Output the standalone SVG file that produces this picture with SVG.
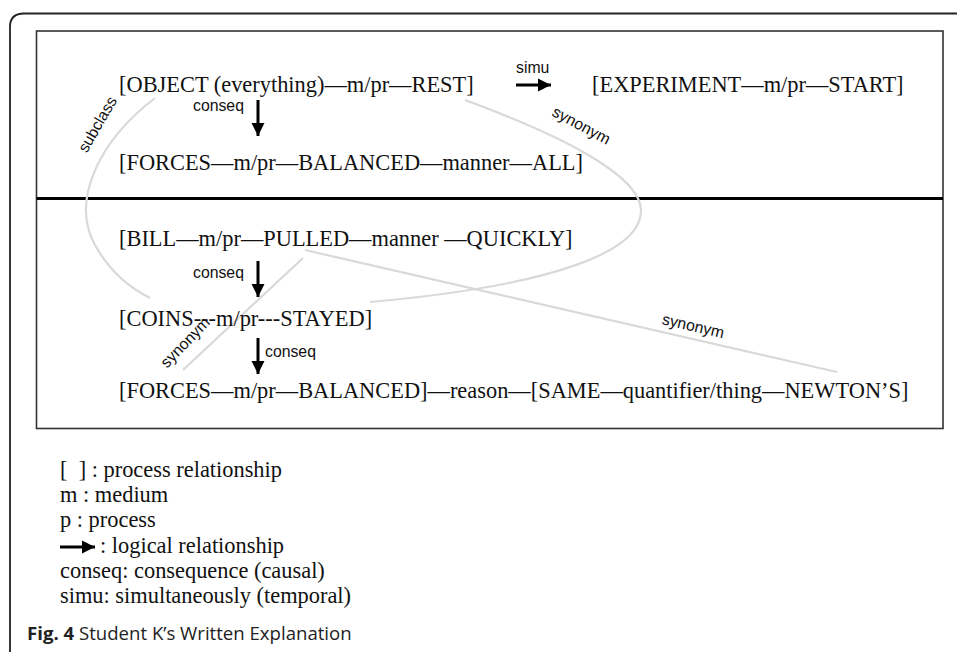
<svg xmlns="http://www.w3.org/2000/svg" width="957" height="652" viewBox="0 0 957 652">
<style>
.t{font-family:"Liberation Serif","Times New Roman",serif;font-size:22.4px;fill:#111}
.s{font-family:"Liberation Sans",Arial,sans-serif;font-size:15.8px;fill:#111}
.g{fill:none;stroke:#d9d9d9;stroke-width:2.2}
.ar{stroke:#000;stroke-width:3;fill:none}
.cap{font-family:"Open Sans","Noto Sans",sans-serif;font-size:18.6px;fill:#222}
</style>
<defs>
<marker id="ah" markerUnits="userSpaceOnUse" markerWidth="14" markerHeight="14" refX="13" refY="7" orient="auto">
<path d="M0,0.5 L13,7 L0,13.5 Z" fill="#000"/>
</marker>
</defs>
<rect width="957" height="652" fill="#fff"/>
<path d="M10,652 V27 Q10,13.5 24,13.5 H957" fill="none" stroke="#222" stroke-width="1.8"/>
<rect x="36.5" y="31" width="906.5" height="397.5" fill="none" stroke="#333" stroke-width="1.6"/>
<line x1="36.5" y1="198.5" x2="943" y2="198.5" stroke="#000" stroke-width="3"/>

<g id="connectors">
<path class="g" d="M155,98 C100,140 70,200 95,245 C110,272 130,288 150,298"/>
<path class="g" d="M465,100 C560,135 640,175 641,210 C642,250 560,285 370,302"/>
<line class="g" x1="305" y1="250" x2="837" y2="372"/>
<line class="g" x1="303" y1="258" x2="183" y2="370"/>
<line class="ar" x1="258" y1="100" x2="258" y2="136" marker-end="url(#ah)"/>
<line class="ar" x1="258" y1="261" x2="258" y2="297" marker-end="url(#ah)"/>
<line class="ar" x1="258" y1="338" x2="258" y2="374" marker-end="url(#ah)"/>
<line class="ar" x1="516" y1="85" x2="551" y2="85" marker-end="url(#ah)"/>
<text class="s" x="193" y="111">conseq</text>
<text class="s" x="193" y="278">conseq</text>
<text class="s" x="265" y="357">conseq</text>
<text class="s" x="516" y="73">simu</text>
<text class="s" transform="translate(102,127) rotate(-60)" text-anchor="middle">subclass</text>
<text class="s" transform="translate(579,130) rotate(28)" text-anchor="middle">synonym</text>
<text class="s" transform="translate(189,346) rotate(-46)" text-anchor="middle">synonym</text>
<text class="s" transform="translate(692,331) rotate(13)" text-anchor="middle">synonym</text>
</g>

<g id="n1"><text class="t" x="119" y="92">[OBJECT (everything)—m/pr—REST]</text></g>
<g id="n2"><text class="t" x="592" y="92">[EXPERIMENT—m/pr—START]</text></g>
<g id="n3"><text class="t" x="119" y="170">[FORCES—m/pr—BALANCED—manner—ALL]</text></g>
<g id="n4"><text class="t" x="119" y="246">[BILL—m/pr—PULLED—manner —QUICKLY]</text></g>
<g id="n5"><text class="t" x="119" y="326">[COINS---m/pr---STAYED]</text></g>
<g id="n6"><text class="t" x="119" y="398">[FORCES—m/pr—BALANCED]—reason—[SAME—quantifier/thing—NEWTON’S]</text></g>

<g id="legend">
<text class="t" x="60" y="477" xml:space="preserve" style="white-space:pre">[  ] : process relationship</text>
<text class="t" x="60" y="502">m : medium</text>
<text class="t" x="60" y="527">p : process</text>
<line class="ar" x1="60" y1="547" x2="95" y2="547" marker-end="url(#ah)"/>
<text class="t" x="100" y="553">: logical relationship</text>
<text class="t" x="60" y="578">conseq: consequence (causal)</text>
<text class="t" x="60" y="603">simu: simultaneously (temporal)</text>
</g>
<text class="cap" x="27" y="640"><tspan font-weight="bold">Fig. 4</tspan> Student K’s Written Explanation</text>
</svg>
